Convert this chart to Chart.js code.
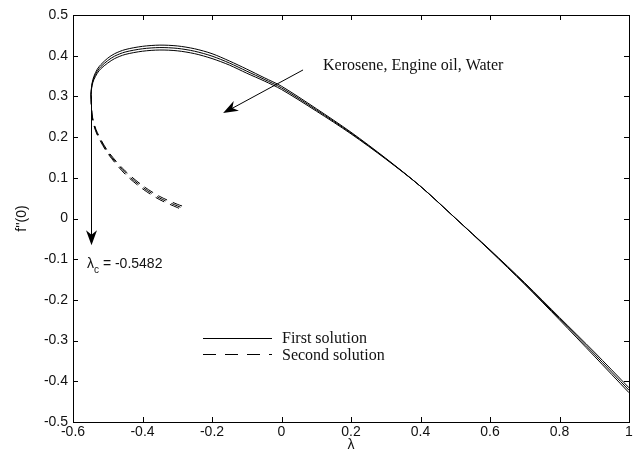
<!DOCTYPE html>
<html>
<head>
<meta charset="utf-8">
<script src="https://cdn.jsdelivr.net/npm/chart.js@4"></script>
<style>
  body { margin: 0; background: #fff; }
  #wrap { width: 643px; height: 459px; }
</style>
</head>
<body>
<div id="wrap"><canvas id="chart" width="643" height="459"></canvas></div>
<script>
// lambda values along the first (upper) solution branch
const lambdaFirst = [-0.5482, -0.547, -0.545, -0.54, -0.53, -0.52, -0.5, -0.48, -0.45, -0.4, -0.35, -0.3, -0.25, -0.2, -0.15, -0.1, -0.05, 0, 0.1, 0.2, 0.3, 0.4, 0.5, 0.6, 0.7, 0.8, 0.9, 1.0];
const keroseneFirst = [0.305, 0.320, 0.333, 0.349, 0.367, 0.378, 0.394, 0.405, 0.415, 0.423, 0.426, 0.424, 0.417, 0.405, 0.387, 0.367, 0.346, 0.325, 0.270, 0.212, 0.148, 0.079, 0.001, -0.077, -0.158, -0.243, -0.328, -0.416];
const engineOilFirst = [0.305, 0.318, 0.330, 0.345, 0.362, 0.373, 0.388, 0.399, 0.409, 0.417, 0.420, 0.418, 0.411, 0.399, 0.382, 0.362, 0.342, 0.321, 0.267, 0.210, 0.147, 0.079, 0.001, -0.078, -0.160, -0.246, -0.333, -0.422];
const waterFirst = [0.305, 0.316, 0.327, 0.341, 0.357, 0.368, 0.382, 0.393, 0.403, 0.411, 0.414, 0.412, 0.405, 0.393, 0.377, 0.357, 0.338, 0.317, 0.264, 0.208, 0.146, 0.079, 0.001, -0.079, -0.162, -0.249, -0.338, -0.428];

// lambda values along the second (lower) solution branch
const lambdaSecond = [-0.5482, -0.547, -0.545, -0.54, -0.53, -0.5, -0.45, -0.4, -0.35, -0.3, -0.28];
const keroseneSecond = [0.305, 0.277, 0.255, 0.235, 0.211, 0.166, 0.117, 0.081, 0.054, 0.035, 0.029];
const engineOilSecond = [0.305, 0.275, 0.252, 0.232, 0.208, 0.163, 0.113, 0.077, 0.050, 0.031, 0.024];
const waterSecond = [0.305, 0.273, 0.249, 0.229, 0.205, 0.160, 0.109, 0.073, 0.046, 0.027, 0.019];

const xTicks = [-0.6, -0.4, -0.2, 0, 0.2, 0.4, 0.6, 0.8, 1];
const yTicks = [0.5, 0.4, 0.3, 0.2, 0.1, 0, -0.1, -0.2, -0.3, -0.4, -0.5];
const lambdaC = -0.5482;

function pts(xs, ys) {
  return xs.map((x, i) => ({ x: x, y: ys[i] }));
}

function curve(xs, ys, dashed) {
  return {
    data: pts(xs, ys),
    showLine: true,
    pointRadius: 0,
    borderWidth: 1,
    borderColor: '#000',
    borderDash: dashed ? [10, 6] : [],
    tension: 0.3,
    fill: false
  };
}

function arrowHead(ctx, x1, y1, x2, y2, len, half) {
  const a = Math.atan2(y2 - y1, x2 - x1);
  const bx = x2 - len * Math.cos(a), by = y2 - len * Math.sin(a);
  const nx = x2 - len * 0.7 * Math.cos(a), ny = y2 - len * 0.7 * Math.sin(a);
  ctx.beginPath();
  ctx.moveTo(x2, y2);
  ctx.lineTo(bx - half * Math.sin(a), by + half * Math.cos(a));
  ctx.lineTo(nx, ny);
  ctx.lineTo(bx + half * Math.sin(a), by - half * Math.cos(a));
  ctx.closePath();
  ctx.fill();
}

const decor = {
  id: 'decor',
  afterDraw(chart) {
    const ctx = chart.ctx;
    const a = chart.chartArea;
    const xs = chart.scales.x, ys = chart.scales.y;
    ctx.save();
    ctx.strokeStyle = '#000';
    ctx.fillStyle = '#000';
    ctx.lineWidth = 1;

    // box
    ctx.strokeRect(Math.round(a.left) + 0.5, Math.round(a.top) + 0.5, Math.round(a.right - a.left), Math.round(a.bottom - a.top));

    // inward ticks
    ctx.beginPath();
    xTicks.forEach(v => {
      const px = Math.round(xs.getPixelForValue(v)) + 0.5;
      ctx.moveTo(px, a.bottom); ctx.lineTo(px, a.bottom - 5);
      ctx.moveTo(px, a.top); ctx.lineTo(px, a.top + 5);
    });
    yTicks.forEach(v => {
      const py = Math.round(ys.getPixelForValue(v)) + 0.5;
      ctx.moveTo(a.left, py); ctx.lineTo(a.left + 5, py);
      ctx.moveTo(a.right, py); ctx.lineTo(a.right - 5, py);
    });
    ctx.stroke();

    // axis titles
    ctx.fillStyle = '#111';
    ctx.font = '14px "Liberation Sans", Arial, sans-serif';
    ctx.textAlign = 'center';
    ctx.textBaseline = 'middle';
    ctx.fillText('\u03bb', xs.getPixelForValue(0.2), 445);
    ctx.save();
    ctx.translate(22, ys.getPixelForValue(0));
    ctx.rotate(-Math.PI / 2);
    ctx.fillText("f''(0)", 0, 0);
    ctx.restore();

    // critical lambda arrow
    ctx.fillStyle = '#000';
    const cx = Math.round(xs.getPixelForValue(lambdaC)) + 0.5;
    const cy1 = ys.getPixelForValue(0.30), cy2 = ys.getPixelForValue(-0.066);
    ctx.beginPath();
    ctx.moveTo(cx, cy1); ctx.lineTo(cx, cy2 - 4);
    ctx.stroke();
    arrowHead(ctx, cx, cy1, cx, cy2, 15, 5.5);

    // fluids arrow
    const ax1 = xs.getPixelForValue(0.062), ay1 = ys.getPixelForValue(0.365);
    const ax2 = xs.getPixelForValue(-0.168), ay2 = ys.getPixelForValue(0.259);
    ctx.beginPath();
    ctx.moveTo(ax1, ay1); ctx.lineTo(ax2 + 4, ay2 - 2);
    ctx.stroke();
    arrowHead(ctx, ax1, ay1, ax2, ay2, 15, 5.5);

    // annotation texts
    ctx.fillStyle = '#111';
    ctx.textAlign = 'left';
    ctx.textBaseline = 'alphabetic';
    ctx.font = '16px "Liberation Serif", "Times New Roman", serif';
    ctx.fillText('Kerosene, Engine oil, Water', 323, 70);

    ctx.font = '14px "Liberation Sans", Arial, sans-serif';
    ctx.fillText('\u03bb', 87, 268);
    const lw = ctx.measureText('\u03bb').width;
    ctx.font = '10px "Liberation Sans", Arial, sans-serif';
    ctx.fillText('c', 87 + lw, 273);
    ctx.font = '14px "Liberation Sans", Arial, sans-serif';
    ctx.fillText(' = -0.5482', 87 + lw + 5, 268);

    // legend
    ctx.strokeStyle = '#000';
    ctx.beginPath();
    ctx.moveTo(203, 338.5); ctx.lineTo(272, 338.5);
    ctx.stroke();
    ctx.setLineDash([13, 9]);
    ctx.beginPath();
    ctx.moveTo(203, 354.5); ctx.lineTo(272, 354.5);
    ctx.stroke();
    ctx.setLineDash([]);
    ctx.font = '16px "Liberation Serif", "Times New Roman", serif';
    ctx.fillText('First solution', 282, 343);
    ctx.fillText('Second solution', 282, 360);
    ctx.restore();
  }
};

new Chart(document.getElementById('chart').getContext('2d'), {
  type: 'scatter',
  data: {
    datasets: [
      curve(lambdaFirst, keroseneFirst, false),
      curve(lambdaFirst, engineOilFirst, false),
      curve(lambdaFirst, waterFirst, false),
      curve(lambdaSecond, keroseneSecond, true),
      curve(lambdaSecond, engineOilSecond, true),
      curve(lambdaSecond, waterSecond, true)
    ]
  },
  options: {
    responsive: false,
    animation: false,
    devicePixelRatio: 1,
    layout: { padding: { top: 15, right: 14, left: 0, bottom: 0 } },
    plugins: { legend: { display: false }, tooltip: { enabled: false } },
    scales: {
      x: {
        type: 'linear',
        min: -0.6,
        max: 1,
        afterFit: s => { s.height = 37; },
        afterBuildTicks: s => { s.ticks = xTicks.map(v => ({ value: v })); },
        grid: { drawOnChartArea: false, drawTicks: false },
        border: { display: false },
        ticks: {
          padding: 2,
          color: '#111',
          font: { family: '"Liberation Sans", Arial, sans-serif', size: 14 },
          maxRotation: 0,
          callback: v => String(Math.round(v * 10) / 10)
        }
      },
      y: {
        type: 'linear',
        min: -0.5,
        max: 0.5,
        afterFit: s => { s.width = 73; },
        afterBuildTicks: s => { s.ticks = yTicks.map(v => ({ value: v })); },
        grid: { drawOnChartArea: false, drawTicks: false },
        border: { display: false },
        ticks: {
          padding: 5,
          color: '#111',
          font: { family: '"Liberation Sans", Arial, sans-serif', size: 14 },
          callback: v => String(Math.round(v * 10) / 10)
        }
      }
    }
  },
  plugins: [decor]
});
</script>
</body>
</html>
